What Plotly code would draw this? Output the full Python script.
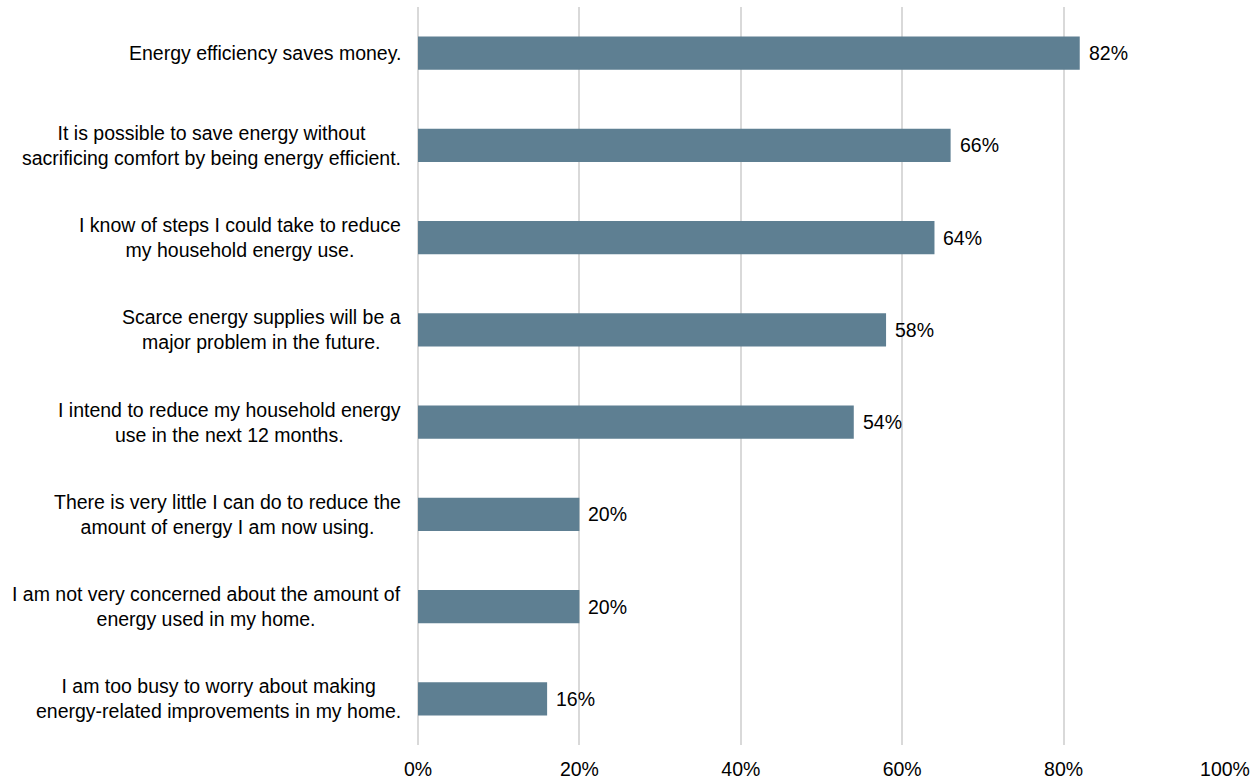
import plotly.graph_objects as go

statements = [
    "Energy efficiency saves money.",
    "It is possible to save energy without<br>sacrificing comfort by being energy efficient.",
    "I know of steps I could take to reduce<br>my household energy use.",
    "Scarce energy supplies will be a<br>major problem in the future.",
    "I intend to reduce my household energy<br>use in the next 12 months.",
    "There is very little I can do to reduce the<br>amount of energy I am now using.",
    "I am not very concerned about the amount of<br>energy used in my home.",
    "I am too busy to worry about making<br>energy-related improvements in my home.",
]
agree_pct = [82, 66, 64, 58, 54, 20, 20, 16]

x_ticks = [0, 20, 40, 60, 80, 100]
x_tick_labels = ["0%", "20%", "40%", "60%", "80%", "100%"]

font_family = "Liberation Sans, Arial, sans-serif"
font_size = 19.5
grid_color = "#D9D9D9"

fig = go.Figure(
    go.Bar(
        x=agree_pct,
        y=statements,
        orientation="h",
        width=0.36,
        marker=dict(color="#5E7F92", line=dict(width=0)),
        hoverinfo="skip",
    )
)

annotations = []
# statement labels, centred within a block that ends just left of the axis
for s in statements:
    annotations.append(dict(
        xref="paper", x=0, xanchor="right", xshift=-15,
        yref="y", y=s, yanchor="middle",
        text=s, align="center", showarrow=False,
        font=dict(family=font_family, size=font_size, color="#000000"),
    ))
# value labels to the right of each bar
for s, v in zip(statements, agree_pct):
    annotations.append(dict(
        xref="x", x=v, xanchor="left", xshift=7,
        yref="y", y=s, yanchor="middle",
        text=f"{v}%", showarrow=False,
        font=dict(family=font_family, size=font_size, color="#000000"),
    ))

fig.update_layout(
    width=1260,
    height=780,
    margin=dict(l=418, r=35, t=7, b=35),
    paper_bgcolor="white",
    plot_bgcolor="white",
    showlegend=False,
    font=dict(family=font_family, size=font_size, color="#000000"),
    annotations=annotations,
)

fig.update_xaxes(
    range=[0, 100],
    tickvals=x_ticks,
    ticktext=x_tick_labels,
    showgrid=True,
    gridcolor=grid_color,
    gridwidth=1.5,
    zeroline=True,
    zerolinecolor=grid_color,
    zerolinewidth=1.5,
    showline=False,
    ticks="",
    ticklabelstandoff=10,
    automargin=False,
    tickfont=dict(family=font_family, size=font_size, color="#000000"),
    fixedrange=True,
)

fig.update_yaxes(
    autorange="reversed",
    showgrid=False,
    zeroline=False,
    showline=False,
    ticks="",
    showticklabels=False,
    automargin=False,
    fixedrange=True,
)

fig.write_html("out.html")
